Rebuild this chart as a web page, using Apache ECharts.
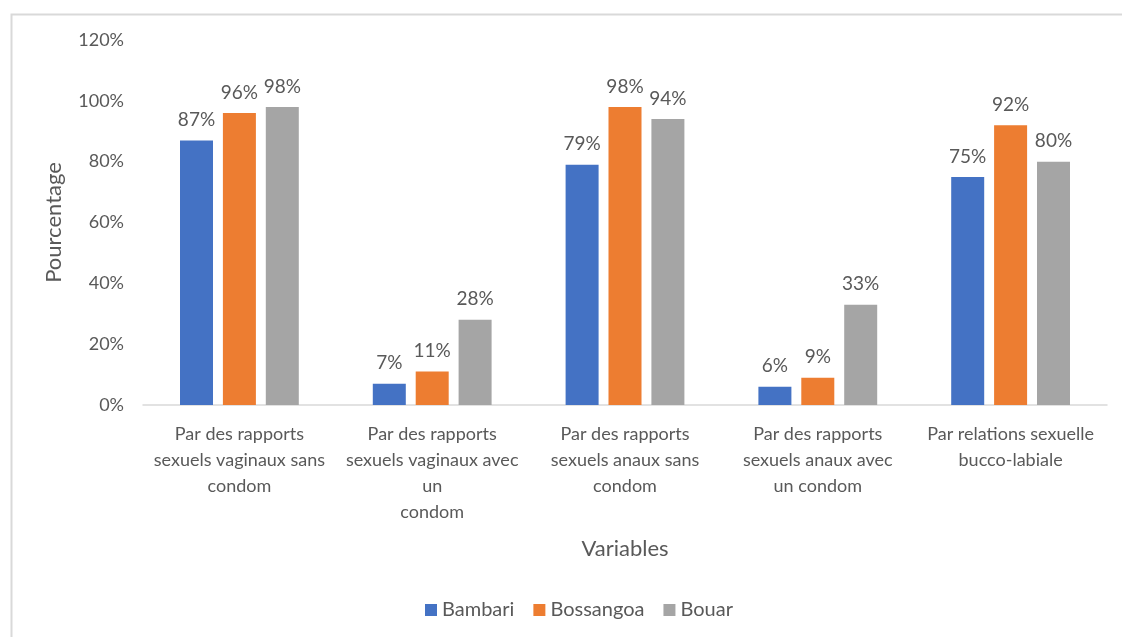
<!DOCTYPE html>
<html><head><meta charset="utf-8">
<script src="https://cdn.jsdelivr.net/npm/echarts@6/dist/echarts.min.js"></script>
<style>html,body{margin:0;padding:0;background:#fff}#c{width:1122px;height:637px}</style>
</head><body><div id="c"></div>
<script>
const categories = [
  "Par des rapports\nsexuels vaginaux sans\ncondom",
  "Par des rapports\nsexuels vaginaux avec\nun\ncondom",
  "Par des rapports\nsexuels anaux sans\ncondom",
  "Par des rapports\nsexuels anaux avec\nun condom",
  "Par relations sexuelle\nbucco-labiale"
];
const bambari = [87, 7, 79, 6, 75];
const bossangoa = [96, 11, 98, 9, 92];
const bouar = [98, 28, 94, 33, 80];
const yTicks = [0, 20, 40, 60, 80, 100, 120];

const font = 'Lato, "Open Sans", sans-serif';
const grey = '#595959';
const chart = echarts.init(document.getElementById('c'));
function mk(name, data, color) {
  return {
    name, type: 'bar', data, barWidth: 33, barGap: '30%',
    itemStyle: { color },
    label: { show: true, position: 'top', distance: 11, color: grey, fontFamily: font, fontSize: 19,
      formatter: p => p.value + '%' }
  };
}
chart.setOption({
  animation: false,
  textStyle: { fontFamily: font },
  graphic: [{ type: 'rect', left: 9, top: 12, shape: { width: 1300, height: 800 },
    style: { fill: 'none', stroke: '#d9d9d9', lineWidth: 2 }, silent: true }],
  grid: { left: 143, right: 15, top: 40, bottom: 232 },
  legend: { top: 595, left: 420, itemWidth: 12, itemHeight: 12, itemGap: 19,
    icon: 'rect', textStyle: { color: grey, fontSize: 20, fontFamily: font } },
  xAxis: {
    type: 'category', data: categories,
    name: 'Variables', nameLocation: 'middle', nameGap: 133,
    nameTextStyle: { color: grey, fontSize: 22, fontFamily: font },
    axisLine: { lineStyle: { color: '#d9d9d9', width: 1.5 } },
    axisTick: { show: false },
    axisLabel: { color: grey, fontSize: 18, fontFamily: font, lineHeight: 26, margin: 16, interval: 0 }
  },
  yAxis: {
    type: 'value', min: 0, max: 120, interval: 20,
    name: 'Pourcentage', nameLocation: 'middle', nameGap: 78, nameRotate: 90,
    nameTextStyle: { color: grey, fontSize: 22, fontFamily: font },
    splitLine: { show: false }, axisLine: { show: false }, axisTick: { show: false },
    axisLabel: { color: grey, fontSize: 18, fontFamily: font, margin: 19,
      formatter: v => yTicks.includes(v) ? v + '%' : '' }
  },
  series: [mk('Bambari', bambari, '#4472C4'), mk('Bossangoa', bossangoa, '#ED7D31'), mk('Bouar', bouar, '#A5A5A5')]
});
</script></body></html>
